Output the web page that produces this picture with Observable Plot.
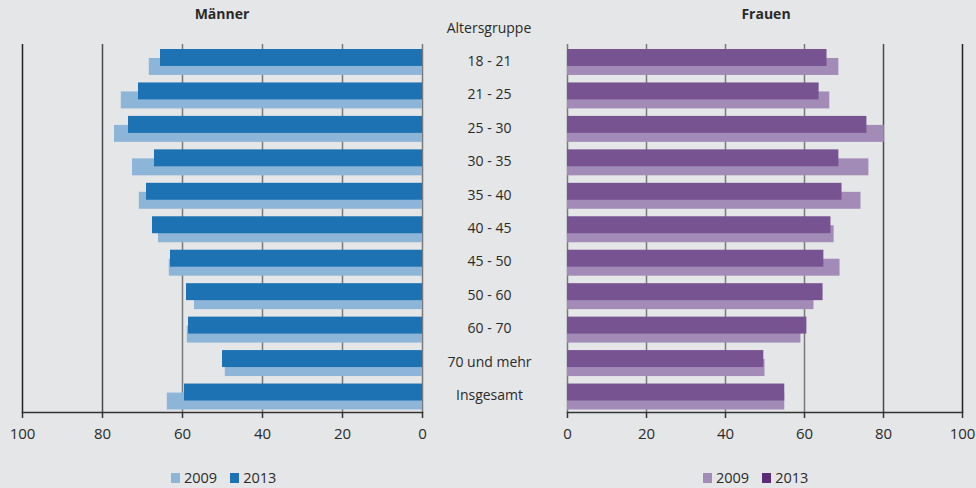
<!DOCTYPE html>
<html>
<head>
<meta charset="utf-8">
<script src="https://cdn.jsdelivr.net/npm/d3@7"></script>
<script src="https://cdn.jsdelivr.net/npm/@observablehq/plot@0.6"></script>
<style>
  html, body { margin: 0; padding: 0; background: #e5e6e8; }
  #wrap { position: relative; width: 976px; height: 488px; background: #e5e6e8; font-family: "Open Sans", sans-serif; color: #2a2a2a; overflow: hidden; }
  #wrap svg { position: absolute; left: 0; top: 0; }
  .title { position: absolute; top: 4px; font-weight: bold; font-size: 14px; transform: translateX(-50%); }
  .sub { position: absolute; top: 18px; font-size: 14px; transform: translateX(-50%); }
  .legend { position: absolute; top: 468px; font-size: 14.5px; display: flex; align-items: center; }
  .legend span.sw { display: inline-block; width: 9px; height: 10px; margin-right: 4px; }
  .legend span.lb { margin-right: 13px; }
</style>
</head>
<body>
<div id="wrap"></div>
<script>
const categories = ["18 - 21", "21 - 25", "25 - 30", "30 - 35", "35 - 40", "40 - 45", "45 - 50", "50 - 60", "60 - 70", "70 und mehr", "Insgesamt"];
const maenner2009 = [68.3, 75.3, 77.0, 72.5, 70.8, 66.0, 63.3, 57.0, 58.8, 49.3, 63.8];
const maenner2013 = [65.5, 71.0, 73.5, 67.0, 69.0, 67.5, 63.0, 59.0, 58.5, 50.0, 59.5];
const frauen2009 = [68.7, 66.4, 80.2, 76.3, 74.3, 67.5, 69.0, 62.4, 59.1, 50.0, 55.0];
const frauen2013 = [65.7, 63.7, 75.8, 68.7, 69.5, 66.7, 64.9, 64.7, 60.6, 49.7, 55.0];
const xTicks = [0, 20, 40, 60, 80, 100];
const years = ["2009", "2013"];
const blue = ["#8db5d7", "#1c72b3"];
const purple = ["#a38bb8", "#775391"];
const purpleLegend = ["#a38bb8", "#5c2b78"];

const wrap = document.getElementById("wrap");

function rows(v2009, v2013) {
  return categories.map((c, i) => ({cat: c, v2009: v2009[i], v2013: v2013[i]}));
}

const gridStroke = d => d === 100 ? "#222" : d === 80 ? "#4a4a4a" : "#7a7a7a";

function panel(data, colors, opts) {
  return Plot.plot({
    width: 976,
    height: 488,
    marginTop: 44,
    marginBottom: 76,
    marginLeft: opts.marginLeft,
    marginRight: opts.marginRight,
    style: {background: "transparent", fontFamily: "Open Sans, sans-serif", color: "#2a2a2a"},
    x: {domain: [0, 100], reverse: opts.reverse, axis: null},
    y: {domain: categories, padding: 0, round: false, axis: null},
    marks: [
      Plot.ruleX(xTicks, {x: d => d, stroke: gridStroke, strokeWidth: 1.5}),
      Plot.barX(data, {x: "v2009", y: "cat", fill: colors[0], insetTop: 14, insetBottom: 2.5}),
      Plot.barX(data, {x: "v2013", y: "cat", fill: colors[1], insetTop: 5, insetBottom: 11.5}),
      Plot.frame({anchor: "bottom", stroke: "#333", strokeWidth: 1.5}),
      Plot.axisX({ticks: xTicks, tickSize: 6, tickPadding: 10, fontSize: 15, stroke: "#333", strokeWidth: 1.5, tickFormat: d => String(d)}),
      ...(opts.labels ? [Plot.text(categories, {y: d => d, text: d => d, frameAnchor: "right", dx: 67, textAnchor: "middle", fontSize: 14, fill: "#2a2a2a"})] : [])
    ]
  });
}

wrap.appendChild(panel(rows(maenner2009, maenner2013), blue, {marginLeft: 22, marginRight: 554, reverse: true, labels: true}));
wrap.appendChild(panel(rows(frauen2009, frauen2013), purple, {marginLeft: 567, marginRight: 14, reverse: false, labels: false}));

function addDiv(cls, text, x) {
  const d = document.createElement("div");
  d.className = cls;
  d.textContent = text;
  d.style.left = x + "px";
  wrap.appendChild(d);
}
addDiv("title", "Männer", 222);
addDiv("title", "Frauen", 766);
addDiv("sub", "Altersgruppe", 489);

function legend(colors, x) {
  const d = document.createElement("div");
  d.className = "legend";
  d.style.left = x + "px";
  years.forEach((y, i) => {
    const sw = document.createElement("span");
    sw.className = "sw";
    sw.style.background = colors[i];
    const lb = document.createElement("span");
    lb.className = "lb";
    lb.textContent = y;
    d.appendChild(sw);
    d.appendChild(lb);
  });
  wrap.appendChild(d);
}
legend(blue, 171);
legend(purpleLegend, 703);
</script>
</body>
</html>
